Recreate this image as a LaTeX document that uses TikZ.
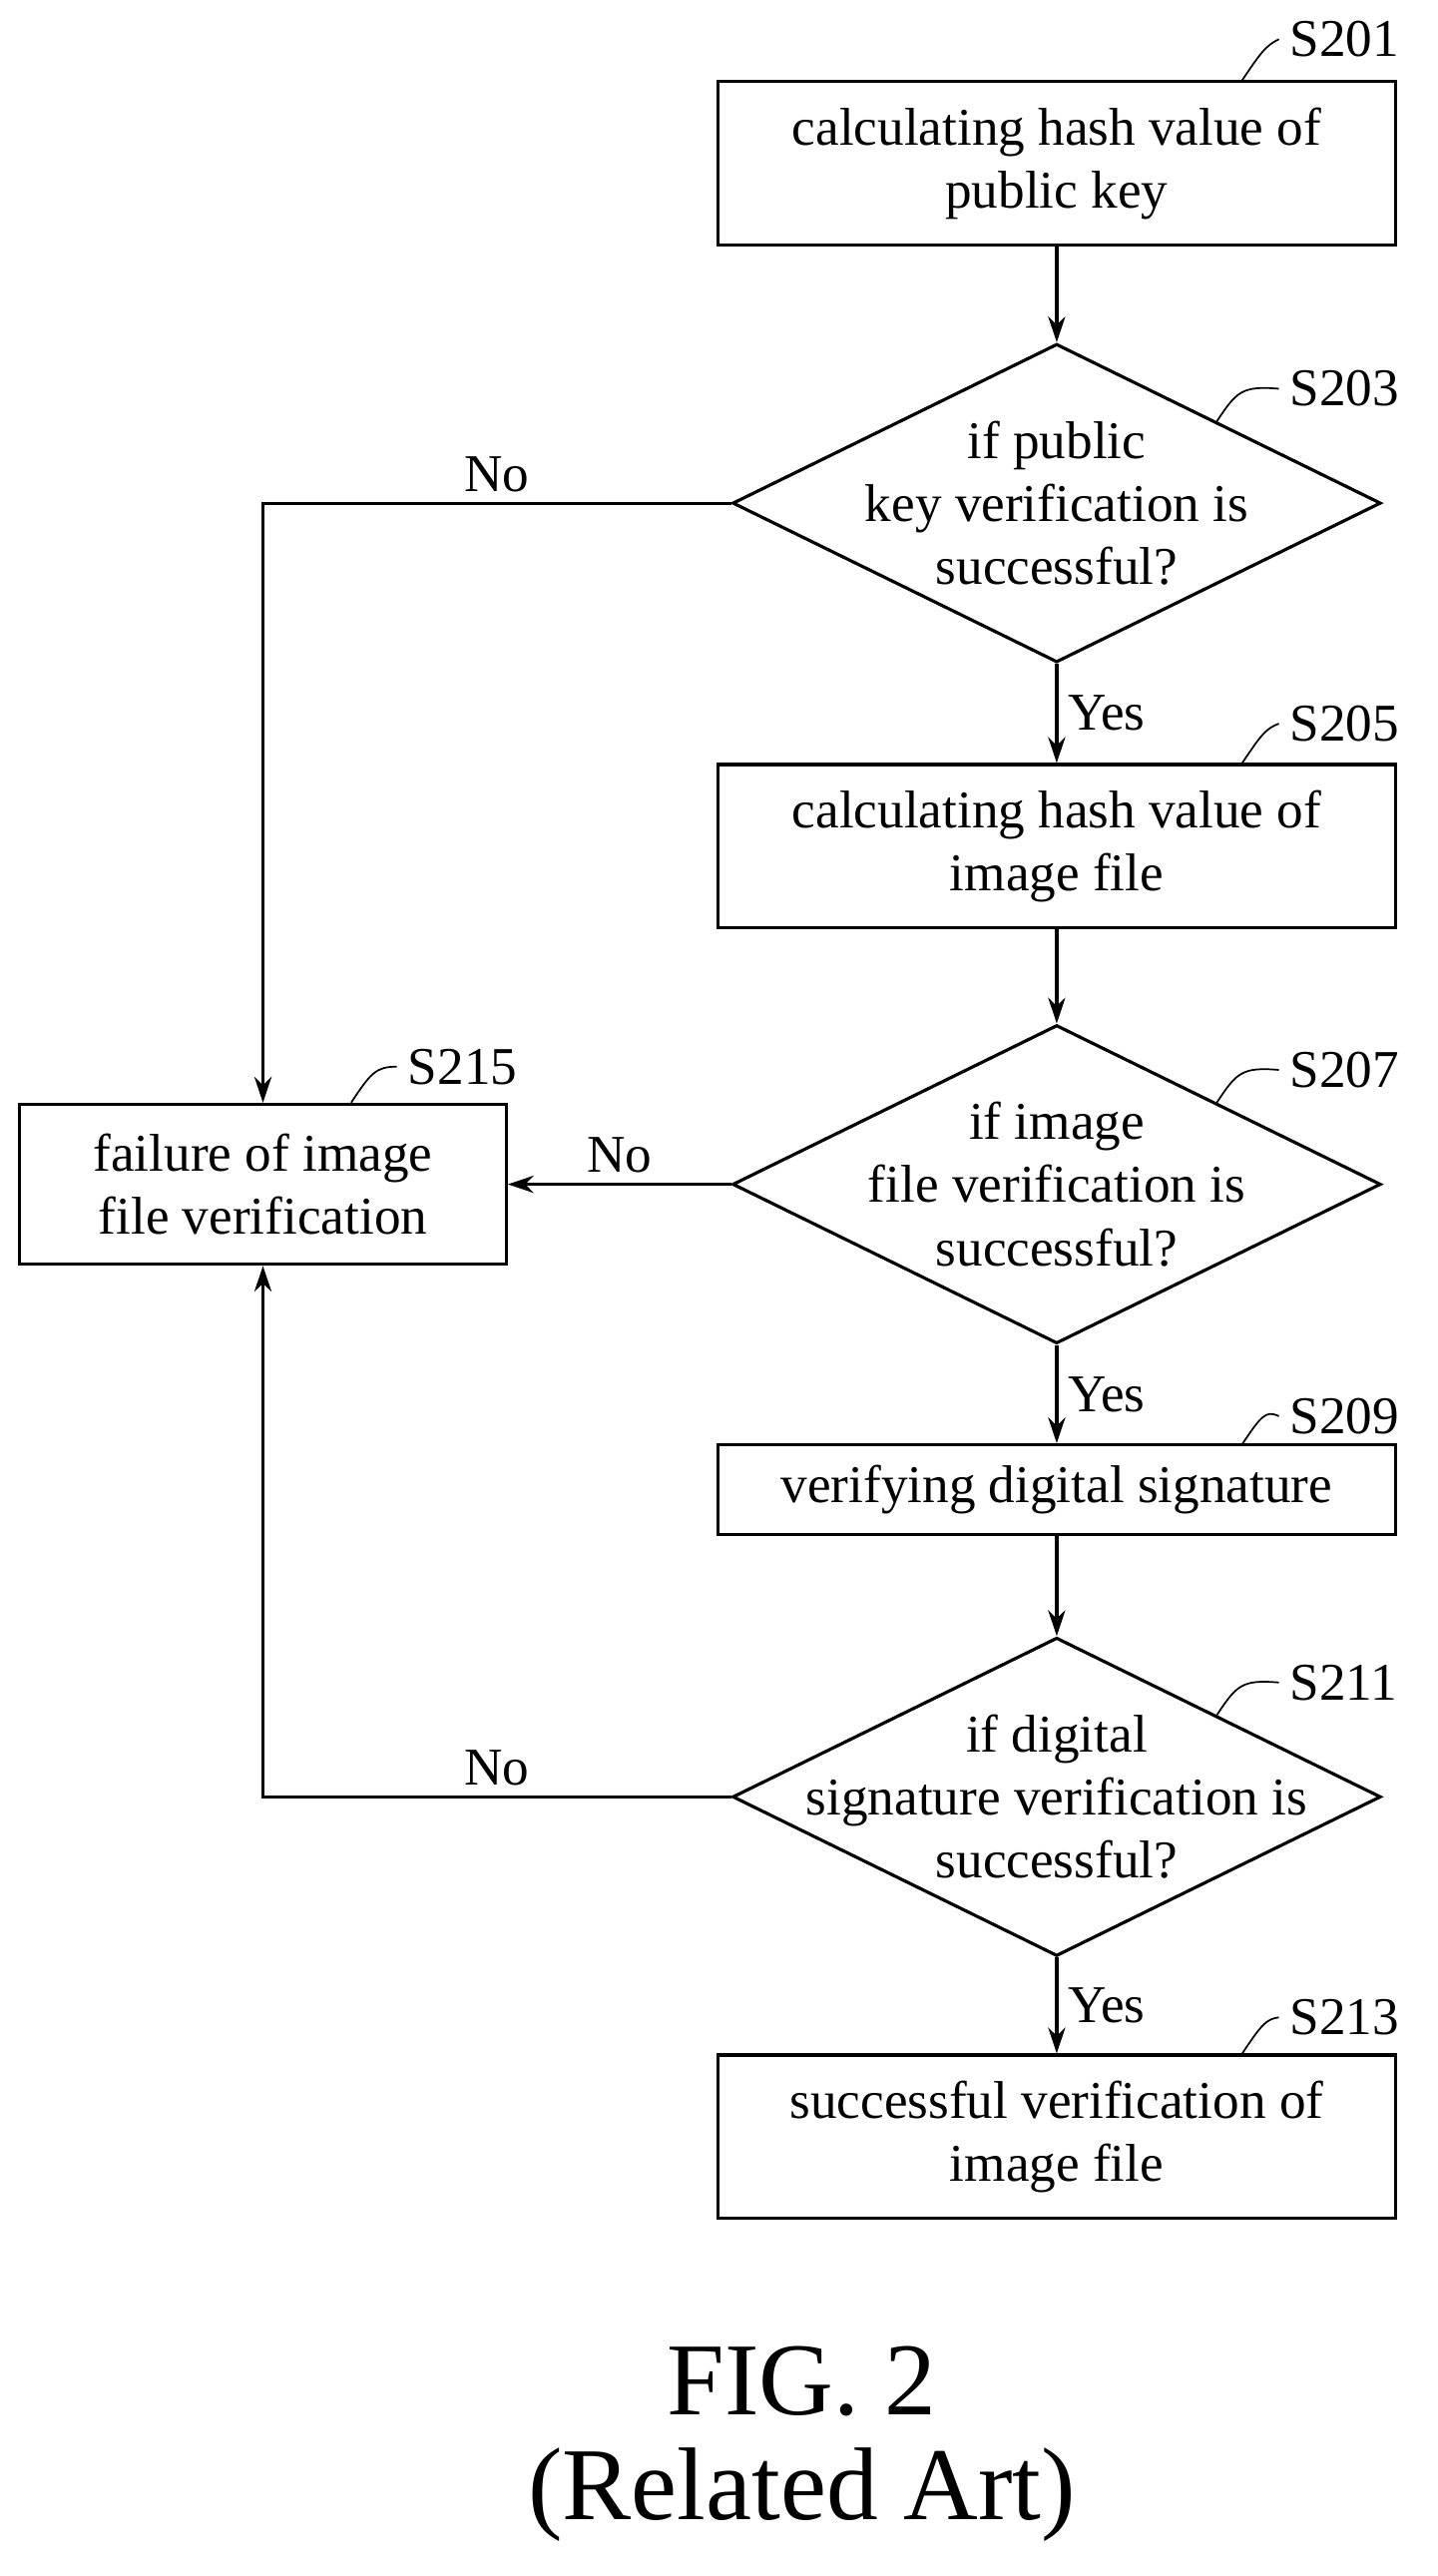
\documentclass[tikz,border=0pt]{standalone}
\usepackage{fontspec}
\setmainfont{Liberation Serif}
\usetikzlibrary{shapes.geometric,arrows.meta}
\begin{document}
\begin{tikzpicture}[x=0.02cm,y=-0.02cm,line width=1.1pt,
  box/.style={draw,minimum width=8.3cm,minimum height=2cm,align=center,font=\fontsize{18.5}{22}\selectfont},
  dia/.style={draw,diamond,minimum width=7.94cm,minimum height=3.9cm,inner sep=0pt},
  txt/.style={align=center,font=\fontsize{18.5}{22}\selectfont},
  lab/.style={font=\fontsize{18.5}{20}\selectfont,anchor=west},
  arr/.style={-{Stealth[length=9pt,width=6pt]}}]
\useasboundingbox (0,0) rectangle (880,1577);
%Step Nodes
\node at (647,100) [box] (s201) {calculating hash value of\\public key};
\node at (647,308) [dia] (d203) {};
\node at (647,308) [txt] (t203) {if public\\key verification is\\successful?};
\node at (647,518) [box] (s205) {calculating hash value of\\image file};
\node at (647,725) [dia] (d207) {};
\node at (647,725) [txt] (t207) {if image\\file verification is\\successful?};
\node at (647,912) [box,minimum height=1.1cm] (s209) {verifying digital signature};
\node at (647,1100) [dia] (d211) {};
\node at (647,1100) [txt] (t211) {if digital\\signature verification is\\successful?};
\node at (647,1308) [box] (s213) {successful verification of\\image file};
\node at (161,725) [box,minimum width=5.96cm,minimum height=1.96cm] (s215) {failure of image\\file verification};
%Step Labels
\node at (783,24) [lab] (l201) {S201};
\node at (783,238) [lab] (l203) {S203};
\node at (783,443) [lab] (l205) {S205};
\node at (783,655) [lab] (l207) {S207};
\node at (783,867) [lab] (l209) {S209};
\node at (783,1030) [lab] (l211) {S211};
\node at (783,1235) [lab] (l213) {S213};
\node at (243,653) [lab] (l215) {S215};
\foreach \s/\x/\y in {201/760/50,203/745/258,205/760/468,207/745/675,209/760/885,211/745/1050,213/760/1258,215/215/675}
  \draw[line width=0.6pt] (\x,\y) .. controls (\x+12,\y-18) and (\x+15,\y-22) .. (l\s.west);
%Connections
\draw[arr] (s201) -- (d203);
\draw[arr] (d203) -- node[txt,right,pos=0.5]{Yes} (s205);
\draw[arr] (s205) -- (d207);
\draw[arr] (d207) -- node[txt,right]{Yes} (s209);
\draw[arr] (s209) -- (d211);
\draw[arr] (d211) -- node[txt,right]{Yes} (s213);
\draw[arr] (d203.west) -- node[txt,above,pos=0.5]{No} (s215.center |- d203.west) -- (s215.north);
\draw[arr] (d207.west) -- node[txt,above]{No} (s215.east);
\draw[arr] (d211.west) -- node[txt,above,pos=0.5]{No} (s215.center |- d211.west) -- (s215.south);
%Caption
\node at (491,1458) [font=\fontsize{36}{40}\selectfont] (fig) {FIG. 2};
\node at (491,1527) [font=\fontsize{36}{40}\selectfont] (rel) {(Related Art)};
\end{tikzpicture}
\end{document}
